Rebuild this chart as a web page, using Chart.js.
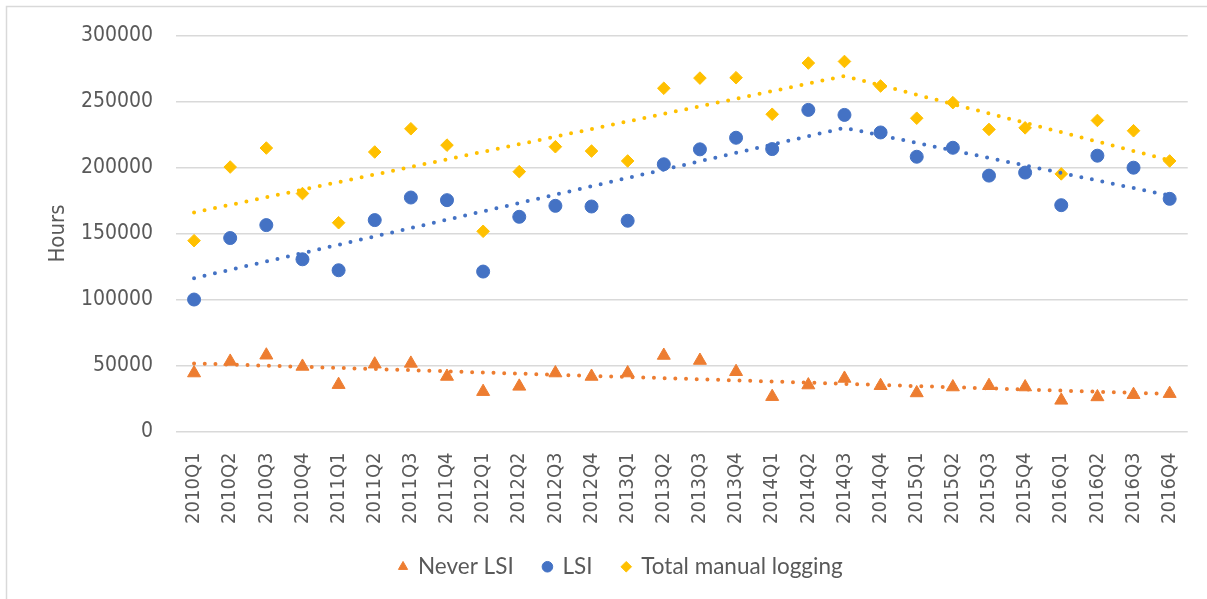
<!DOCTYPE html>
<html>
<head>
<meta charset="utf-8">
<title>Hours per quarter</title>
<script src="https://cdn.jsdelivr.net/npm/chart.js@4/dist/chart.umd.min.js"></script>
<style>
  body { margin: 0; background: #fff; }
</style>
</head>
<body>
<canvas id="mycanvas" width="1207" height="599"></canvas>
<script>
var quarters = ['2010Q1', '2010Q2', '2010Q3', '2010Q4', '2011Q1', '2011Q2', '2011Q3', '2011Q4',
                '2012Q1', '2012Q2', '2012Q3', '2012Q4', '2013Q1', '2013Q2', '2013Q3', '2013Q4',
                '2014Q1', '2014Q2', '2014Q3', '2014Q4', '2015Q1', '2015Q2', '2015Q3', '2015Q4',
                '2016Q1', '2016Q2', '2016Q3', '2016Q4'];

var neverLsi = [44300, 53100, 57800, 49300, 35500, 51000, 51600, 41700, 30200, 34200, 44300, 41700, 44300, 57600,
                53800, 45300, 26400, 35200, 40200, 34700, 29200, 33700, 34700, 33700, 23600, 26200, 27900, 28700];
var lsi = [100000, 146600, 156400, 130500, 122200, 160200, 177300, 175300, 121200, 162700, 171000, 170500, 159700, 202500,
           213800, 222600, 214000, 243700, 239900, 226600, 208200, 215000, 193900, 196200, 171500, 209000, 199900, 176300];
var totalLogging = [144600, 200400, 214800, 180300, 158200, 211800, 229400, 217000, 151700, 196900, 215800, 212500, 205000, 260100,
                    267800, 268100, 240400, 279200, 280400, 261800, 237400, 249200, 228900, 230100, 195200, 235700, 227900, 205000];

// dotted trend lines, read at their end points (and the 2014Q3 break)
var trendNever = [51600, null, null, null, null, null, null, null, null, null, null, null, null, null,
                  null, null, null, null, null, null, null, null, null, null, null, null, null, 28400];
var trendLsi = [116200, null, null, null, null, null, null, null, null, null, null, null, null, null,
                null, null, null, null, 230100, null, null, null, null, null, null, null, null, 178800];
var trendTotal = [166000, null, null, null, null, null, null, null, null, null, null, null, null, null,
                  null, null, null, null, 269400, null, null, null, null, null, null, null, null, 205500];

var yTicks = [0, 50000, 100000, 150000, 200000, 250000, 300000];

var orange = '#ED7D31', blue = '#4472C4', gold = '#FFC000', grey = '#595959';
var axisFont = 'DejaVu Sans Condensed, DejaVu Sans';

function trend(values, colour) {
    return {
        label: 'trend',
        data: values,
        borderColor: colour,
        borderWidth: 4,
        borderDash: [0, 10.7],
        borderCapStyle: 'round',
        pointRadius: 0,
        spanGaps: true,
        fill: false
    };
}

function markers(name, values, colour, style, size) {
    return {
        label: name,
        data: values,
        showLine: false,
        pointStyle: style,
        pointRadius: size,
        pointHoverRadius: size,
        backgroundColor: colour,
        borderColor: colour,
        pointBackgroundColor: colour,
        pointBorderColor: colour,
        borderWidth: 1
    };
}

// thin frame on the left and top, like the original chart area
var frame = {
    id: 'frame',
    afterDraw: function(chart) {
        var ctx = chart.ctx;
        ctx.save();
        ctx.strokeStyle = '#d9d9d9';
        ctx.lineWidth = 1.5;
        ctx.beginPath();
        ctx.moveTo(6.5, 599);
        ctx.lineTo(6.5, 6.5);
        ctx.lineTo(1207, 6.5);
        ctx.stroke();
        ctx.restore();
    }
};

var ctx = document.getElementById('mycanvas');
var myChart = new Chart(ctx, {
    type: 'line',
    data: {
        labels: quarters,
        datasets: [
            trend(trendNever, orange),
            trend(trendLsi, blue),
            trend(trendTotal, gold),
            markers('Never LSI', neverLsi, orange, 'triangle', 7.5),
            markers('LSI', lsi, blue, 'circle', 6.5),
            markers('Total manual logging', totalLogging, gold, 'rectRot', 6.3)
        ]
    },
    plugins: [frame],
    options: {
        responsive: false,
        animation: false,
        layout: { padding: { left: 35, right: 0, top: 35, bottom: 11 } },
        plugins: {
            tooltip: { enabled: false },
            legend: {
                position: 'bottom',
                labels: {
                    usePointStyle: true,
                    boxWidth: 7.5,
                    boxHeight: 7.5,
                    padding: 30,
                    color: grey,
                    font: { family: 'Lato', size: 22.5 },
                    filter: function(item) { return item.text !== 'trend'; }
                }
            }
        },
        scales: {
            x: {
                offset: true,
                grid: { display: false },
                border: { display: false },
                ticks: {
                    autoSkip: false,
                    maxRotation: 90,
                    minRotation: 90,
                    padding: 13,
                    color: grey,
                    font: { family: axisFont, size: 20 }
                },
                afterFit: function(scale) { scale.height = 94; }
            },
            y: {
                min: 0,
                max: 300000,
                grid: { color: '#d9d9d9', lineWidth: 1.5, drawTicks: false },
                border: { display: false },
                afterBuildTicks: function(scale) {
                    scale.ticks = yTicks.map(function(v) { return { value: v }; });
                },
                ticks: {
                    padding: 23,
                    color: grey,
                    font: { family: axisFont, size: 21 },
                    callback: function(v) { return String(v); }
                },
                title: {
                    display: true,
                    text: 'Hours',
                    color: grey,
                    padding: { top: 10, bottom: 0 },
                    font: { family: axisFont, size: 22 }
                },
                afterFit: function(scale) { scale.width = 141; }
            },
            yRight: {
                position: 'right',
                grid: { display: false },
                border: { display: false },
                ticks: { display: false },
                afterFit: function(scale) { scale.width = 19; }
            }
        }
    }
});
</script>
</body>
</html>
